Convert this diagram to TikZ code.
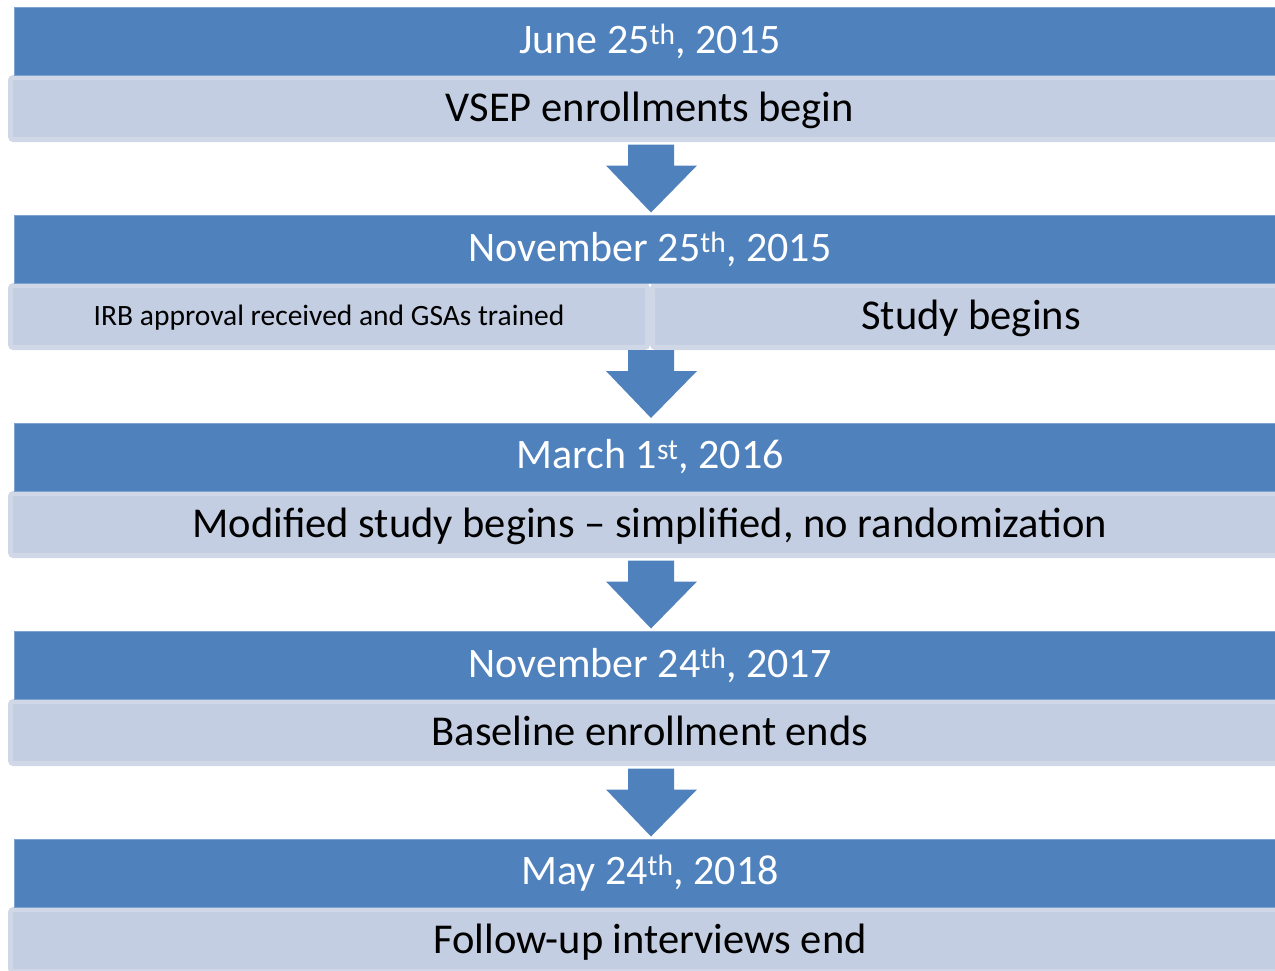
\documentclass[tikz,border=0pt]{standalone}
\usepackage{fontspec}
\setmainfont{Carlito}
\usetikzlibrary{calc}
\definecolor{hdrblue}{HTML}{4F81BD}
\definecolor{hdredge}{HTML}{7FA2CF}
\definecolor{bodyfill}{HTML}{C3CEE2}
\definecolor{bodyedge}{HTML}{D0D8E8}
\tikzset{
  datebox/.style={fill=hdrblue, draw=hdredge, line width=1pt, minimum width=1272pt,
    minimum height=68pt, inner sep=0pt, text=white, font=\fontsize{42}{48}\selectfont},
  eventbox/.style={fill=bodyfill, draw=bodyedge, line width=5pt, rounded corners=3pt,
    minimum width=1279pt, minimum height=62pt, inner sep=0pt, text=black,
    text height=30pt, text depth=4pt, font=\fontsize{42.5}{48}\selectfont},
  halfbox/.style={eventbox, minimum width=637pt},
  smalltext/.style={text height=21pt, text depth=4pt, font=\fontsize{29.5}{34}\selectfont},
  flowarrow/.style={fill=hdrblue, draw=none},
}
\begin{document}
\begin{tikzpicture}[x=1pt,y=-1pt]
\useasboundingbox (0,0) rectangle (1275,970);
\clip (0,0) rectangle (1275,970);

% row 1
\node[eventbox] (e1) at (650,108.5) {VSEP enrollments begin};
\node[datebox]  (d1) at (650,41) {June 25\textsuperscript{th}, 2015};

% row 2 (split event row)
\node[halfbox, smalltext] (e2a) at (329,316.5) {IRB approval received and GSAs trained};
\node[halfbox] (e2b) at (971,316.5) {Study begins};
\coordinate (e2) at (650,347.5);
\node[datebox]  (d2) at (650,249) {November 25\textsuperscript{th}, 2015};

% row 3
\node[eventbox] (e3) at (650,524.5) {Modified study begins -- simplified, no randomization};
\node[datebox]  (d3) at (650,457) {March 1\textsuperscript{st}, 2016};

% row 4
\node[eventbox] (e4) at (650,732.5) {Baseline enrollment ends};
\node[datebox]  (d4) at (650,665) {November 24\textsuperscript{th}, 2017};

% row 5
\node[eventbox] (e5) at (650,940.5) {Follow-up interviews end};
\node[datebox]  (d5) at (650,873) {May 24\textsuperscript{th}, 2018};

% block arrows between the rows
\foreach \s in {e1.south,e2,e3.south,e4.south}{
  \fill[flowarrow] ([shift={(-22,2.5)}]\s) -- ([shift={(24,2.5)}]\s)
    -- ([shift={(24,23.5)}]\s) -- ([shift={(47,23.5)}]\s)
    -- ([shift={(1,70.5)}]\s) -- ([shift={(-44,23.5)}]\s)
    -- ([shift={(-22,23.5)}]\s) -- cycle;
}
\end{tikzpicture}
\end{document}
